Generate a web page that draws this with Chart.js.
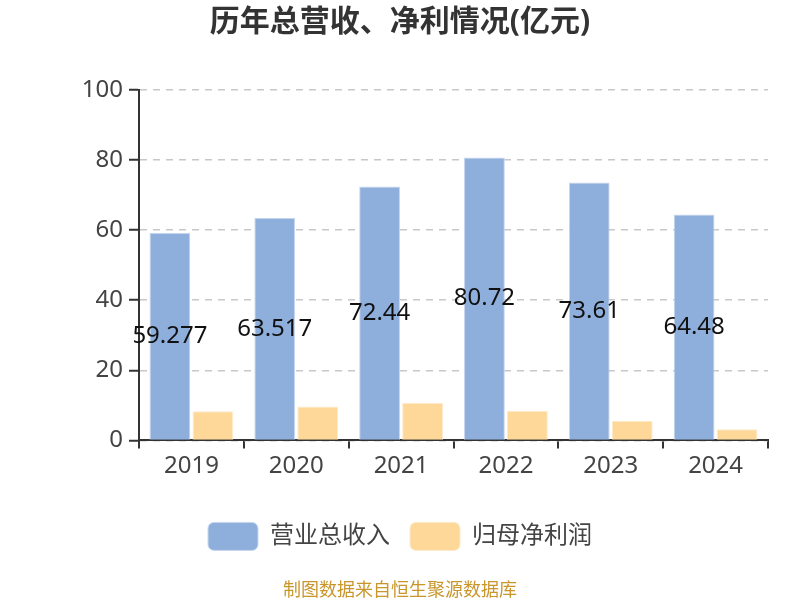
<!DOCTYPE html>
<html>
<head>
<meta charset="utf-8">
<script src="https://cdn.jsdelivr.net/npm/chart.js@4/dist/chart.umd.min.js"></script>
<style>
  html, body { margin: 0; padding: 0; background: #fff; }
  #wrap { width: 800px; height: 600px; }
</style>
</head>
<body>
<div id="wrap"><canvas id="revChart" width="800" height="600"></canvas></div>
<script>
const years = ["2019", "2020", "2021", "2022", "2023", "2024"];
const revenue = [59.277, 63.517, 72.44, 80.72, 73.61, 64.48];
const netProfit = [8.3, 9.7, 10.7, 8.4, 5.6, 3.2];
const yTicks = [0, 20, 40, 60, 80, 100];

const FONT = "'Noto Sans', 'Noto Sans CJK SC', sans-serif";

// draws the revenue value in the middle of each blue bar
const barLabels = {
  id: "barLabels",
  afterDatasetsDraw(chart) {
    const ctx = chart.ctx;
    const meta = chart.getDatasetMeta(0);
    ctx.save();
    ctx.font = "24px " + FONT;
    ctx.fillStyle = "#111";
    ctx.textAlign = "center";
    ctx.textBaseline = "middle";
    meta.data.forEach((bar, i) => {
      const mid = (bar.y + bar.base) / 2;
      ctx.fillText(String(revenue[i]), bar.x, mid);
    });
    ctx.restore();
  }
};

new Chart(document.getElementById("revChart"), {
  type: "bar",
  data: {
    labels: years,
    datasets: [
      {
        label: "营业总收入",
        data: revenue,
        backgroundColor: "#8eaedb",
        borderColor: "#c9d7ee",
        borderWidth: 1
      },
      {
        label: "归母净利润",
        data: netProfit,
        backgroundColor: "#fed899",
        borderColor: "#feeacb",
        borderWidth: 1
      }
    ]
  },
  plugins: [barLabels],
  options: {
    responsive: false,
    animation: false,
    layout: { padding: 0 },
    datasets: {
      bar: { categoryPercentage: 0.82, barPercentage: 0.95 }
    },
    plugins: {
      title: {
        display: true,
        text: "历年总营收、净利情况(亿元)",
        color: "#333",
        font: { family: FONT, size: 30, weight: "bold" },
        padding: { top: 4, bottom: 50 }
      },
      subtitle: {
        display: true,
        position: "bottom",
        text: "制图数据来自恒生聚源数据库",
        color: "#c9962b",
        font: { family: FONT, size: 18, lineHeight: 1 },
        padding: { top: 21.6, bottom: 0 }
      },
      legend: {
        position: "bottom",
        labels: {
          color: "#444",
          font: { family: FONT, size: 24 },
          boxWidth: 50,
          boxHeight: 28,
          useBorderRadius: true,
          borderRadius: 6,
          padding: 20
        }
      },
      tooltip: { enabled: false }
    },
    scales: {
      x: {
        afterFit(scale) {
          scale.height = 62;
        },
        border: { color: "#333", width: 2 },
        grid: {
          drawOnChartArea: false,
          color: "#333",
          tickLength: 8,
          lineWidth: 2,
          offset: true
        },
        ticks: {
          color: "#444",
          font: { family: FONT, size: 24 },
          padding: 3
        }
      },
      y: {
        min: 0,
        max: 100,
        afterBuildTicks(scale) {
          scale.ticks = yTicks.map(v => ({ value: v }));
        },
        afterFit(scale) {
          scale.width = 139;
        },
        border: { color: "#333", width: 2, dash: [7, 6] },
        grid: {
          color: "#c8c8c8",
          lineWidth: 1.5,
          tickColor: "#333",
          tickLength: 10,
          tickBorderDash: [],
          tickWidth: 2
        },
        ticks: {
          color: "#444",
          font: { family: FONT, size: 24 },
          padding: 6
        }
      },
      // empty right axis, only keeps a margin on the right of the plot
      yRight: {
        position: "right",
        min: 0,
        max: 100,
        afterFit(scale) {
          scale.width = 32;
        },
        border: { display: false },
        grid: { display: false },
        ticks: { display: false }
      }
    }
  }
});
</script>
</body>
</html>
